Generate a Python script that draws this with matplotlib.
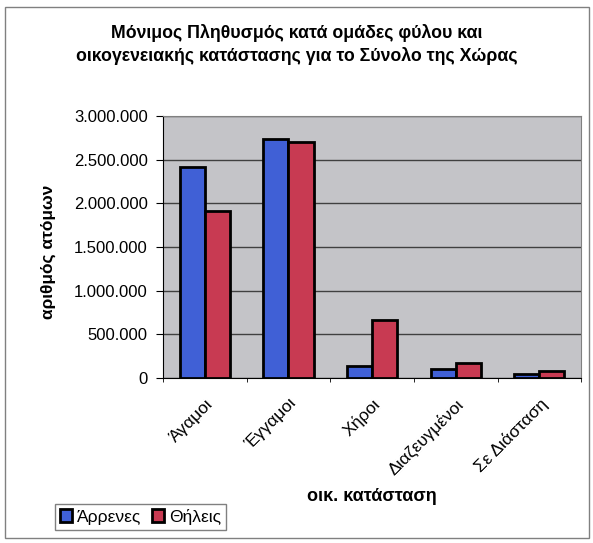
import matplotlib.pyplot as plt
import numpy as np
from matplotlib.ticker import FuncFormatter
from matplotlib.patches import Rectangle
from matplotlib.transforms import ScaledTranslation

plt.rcParams['font.family'] = ['Liberation Sans', 'DejaVu Sans']

categories = ['Άγαμοι', 'Έγγαμοι', 'Χήροι', 'Διαζευγμένοι', 'Σε Διάσταση']
series_names = ['Άρρενες', 'Θήλεις']
males = [2420000, 2740000, 137000, 107000, 46000]
females = [1916000, 2710000, 664000, 175000, 77000]
y_ticks = [0, 500000, 1000000, 1500000, 2000000, 2500000, 3000000]

blue = '#4060d6'
red = '#c83a52'


def dots(v, pos):
    return '{:,.0f}'.format(v).replace(',', '.')


fig = plt.figure(figsize=(5.93, 5.43), dpi=100)
fig.patch.set_facecolor('white')
# outer chart border
fig.add_artist(Rectangle((0.008, 0.01), 0.985, 0.977, transform=fig.transFigure,
                         fill=False, edgecolor='#808080', linewidth=1))

ax = fig.add_axes([0.275, 0.304, 0.705, 0.482])
ax.set_facecolor('#c4c4c8')

x = np.arange(len(categories))
w = 0.3
ax.bar(x - w / 2, males, w, color=blue, edgecolor='black', linewidth=2,
       label=series_names[0], zorder=3)
ax.bar(x + w / 2, females, w, color=red, edgecolor='black', linewidth=2,
       label=series_names[1], zorder=3)

ax.set_xlim(-0.5, len(categories) - 0.5)
ax.set_ylim(0, 3000000)
ax.set_yticks(y_ticks)
ax.yaxis.set_major_formatter(FuncFormatter(dots))
ax.grid(axis='y', color='#404040', linewidth=1, zorder=1)

ax.set_xticks(x)
ax.set_xticklabels(categories, rotation=45, ha='right', rotation_mode='anchor',
                   fontsize=12.5)
# Excel puts the end of a slanted label a bit left of the category centre
shift = ScaledTranslation(-0.1, 0, fig.dpi_scale_trans)
for lab in ax.get_xticklabels():
    lab.set_transform(lab.get_transform() + shift)
ax.set_xticks(np.arange(len(categories) + 1) - 0.5, minor=True)
ax.tick_params(axis='x', which='major', length=0, pad=13)
ax.tick_params(axis='x', which='minor', length=3, direction='out')
ax.tick_params(axis='y', labelsize=12, length=5, direction='out', pad=6)

for s in ax.spines.values():
    s.set_color('#808080')
ax.spines['left'].set_color('black')
ax.spines['bottom'].set_color('black')

ax.set_ylabel('αριθμός ατόμων', fontsize=12.5, fontweight='bold')
ax.yaxis.set_label_coords(-0.255, 0.48)
ax.set_xlabel('οικ. κατάσταση', fontsize=13, fontweight='bold')
ax.xaxis.set_label_coords(0.5, -0.42)

fig.text(0.5, 0.918, 'Μόνιμος Πληθυσμός κατά ομάδες φύλου και\n'
         'οικογενειακής κατάστασης για το Σύνολο της Χώρας',
         ha='center', va='center', fontsize=12.8, fontweight='bold',
         linespacing=1.35)

leg = fig.legend(loc='lower left', bbox_to_anchor=(0.092, 0.024), ncol=2,
                 fontsize=12.5, frameon=True, fancybox=False,
                 handlelength=0.7, handleheight=0.8, handletextpad=0.3,
                 columnspacing=0.6, borderpad=0.3, borderaxespad=0)
leg.get_frame().set_edgecolor('#606060')
leg.get_frame().set_linewidth(1)

fig.savefig('out.png', dpi=100)
